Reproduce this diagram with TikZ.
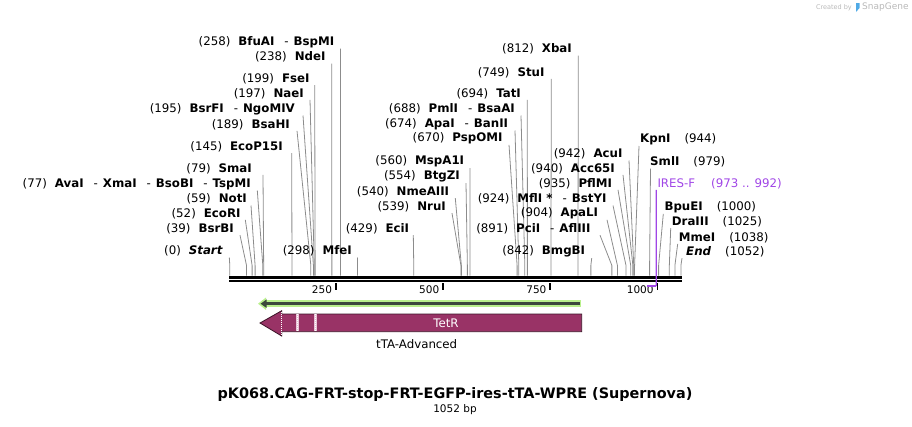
\documentclass[tikz,border=0pt]{standalone}
\usepackage{fontspec}
\setmainfont{DejaVu Sans}
\usetikzlibrary{arrows.meta}
\definecolor{cutgray}{RGB}{140,140,140}
\definecolor{tetr}{RGB}{153,51,102}
\definecolor{tetrline}{RGB}{60,20,40}
\definecolor{stripe}{RGB}{232,196,214}
\definecolor{halo}{RGB}{185,240,140}
\definecolor{orfline}{RGB}{60,72,60}
\definecolor{primer}{RGB}{160,70,230}
\definecolor{credit}{RGB}{185,185,185}
\definecolor{logo}{RGB}{80,170,230}
\newcommand\enz[1]{\textbf{#1}}
\newcommand\dsh{\hspace{10pt}-\hspace{5pt}}
\tikzset{
  lbl/.style={inner sep=0pt,font=\fontsize{11.8}{13}\selectfont},
  cut/.style={draw=cutgray,line width=0.8pt},
  tickmark/.style={line width=1.6pt},
}
\begin{document}
\begin{tikzpicture}[x=1pt,y=-1pt]
    \useasboundingbox (0,0) rectangle (912,426);
    %% backbone
    \draw[line width=2.6pt] (229.3,277.3) -- (681.7,277.3);
    \draw[line width=2pt] (229.3,281.2) -- (681.7,281.2);
    %% ruler
    \foreach \t in {250,500,750,1000} {
        \pgfmathsetmacro\tx{228.5+0.4288*\t}
        \draw[tickmark] (\tx,283) -- (\tx,289.5);
        \node[lbl,font=\fontsize{10.5}{12}\selectfont,anchor=east] (t\t) at (\tx-3.5,289.5) {\t};
    }
    %% sites, labels on the left
    \foreach \id/\num/\txt/\lx/\ly/\dx/\bp in {
        bfu/258/{\enz{BfuAI}\dsh\enz{BspMI}}/334.5/42/6/258,
        nde/238/{\enz{NdeI}}/325.7/57/6/238,
        fse/199/{\enz{FseI}}/309.7/78.5/5/199,
        nae/197/{\enz{NaeI}}/304/93.3/6/197,
        bsrf/195/{\enz{BsrFI}\dsh\enz{NgoMIV}}/295/109/8/195,
        bsah/189/{\enz{BsaHI}}/290/124.3/7/189,
        ecop/145/{\enz{EcoP15I}}/283/146.7/8.7/145,
        sma/79/{\enz{SmaI}}/252/168.3/11/79,
        ava/77/{\enz{AvaI}\dsh\enz{XmaI}\dsh\enz{BsoBI}\dsh\enz{TspMI}}/251/184/6.3/77,
        noti/59/{\enz{NotI}}/247/199/4/59,
        ecor/52/{\enz{EcoRI}}/240.7/213.3/4.6/52,
        bsrb/39/{\enz{BsrBI}}/234/228.7/6/39,
        start/0/{\enz{\textit{Start}}}/223/251/6.3/0,
        mfe/298/{\enz{MfeI}}/352/251/5.4/298,
        eci/429/{\enz{EciI}}/409.3/228.7/4/429,
        nru/539/{\enz{NruI}}/446/206.7/6/539,
        nme/540/{\enz{NmeAIII}}/449.3/191.7/6/540,
        btg/554/{\enz{BtgZI}}/460/176.7/6/554,
        msp/560/{\enz{MspA1I}}/464.3/161.7/5.7/560,
        psp/670/{\enz{PspOMI}}/502.7/138.3/6.3/670,
        apa/674/{\enz{ApaI}\dsh\enz{BanII}}/508.3/124/6.7/674,
        pml/688/{\enz{PmlI}\dsh\enz{BsaAI}}/515/109/6/688,
        tat/694/{\enz{TatI}}/521/93.3/6.3/694,
        stu/749/{\enz{StuI}}/544.7/72.3/6.6/749,
        xba/812/{\enz{XbaI}}/572/49/6.3/812,
        bmg/842/{\enz{BmgBI}}/585.3/251.7/6.4/842,
        pci/891/{\enz{PciI}\dsh\enz{AflIII}}/590.7/228.7/9.3/891,
        apal/904/{\enz{ApaLI}}/598.3/213.3/8.7/904,
        mfl/924/{\enz{MflI *}\dsh\enz{BstYI}}/606.7/199/6.3/924,
        pfl/935/{\enz{PflMI}}/612.3/183.3/5.7/935,
        acc/940/{\enz{Acc65I}}/615/168.3/8/940,
        acu/942/{\enz{AcuI}}/622.7/154/6.3/942} {
        \pgfmathsetmacro\sx{229.8+0.4288*\bp}
        \node[lbl,anchor=east] (\id) at (\lx,\ly) {(\num)\hspace{8pt}\txt};
        \coordinate (s-\id) at (\sx,275.5);
        \draw[cut] ([shift={(\dx,6.5)}]\id.east) -- ([yshift=10pt]s-\id) -- (s-\id);
    }
    %% sites, labels on the right
    \foreach \id/\txt/\num/\lx/\ly/\dx/\bp in {
        kpn/{\enz{KpnI}}/944/640/139.5/-1/944,
        sml/{\enz{SmlI}}/979/650/162/0.5/979,
        bpu/{\enz{BpuEI}}/1000/664.3/207.3/-1/1000,
        dra/{\enz{DraIII}}/1025/671.7/221.7/-1/1025,
        mme/{\enz{MmeI}}/1038/678.7/237.3/-1/1038,
        fin/{\enz{\textit{End}}}/1052/686/251.7/-4/1052} {
        \pgfmathsetmacro\sx{229.8+0.4288*\bp}
        \node[lbl,anchor=west] (\id) at (\lx,\ly) {\txt\hspace{14pt}(\num)};
        \coordinate (s-\id) at (\sx,275.5);
        \draw[cut] ([shift={(\dx,6.5)}]\id.west) -- ([yshift=10pt]s-\id) -- (s-\id);
    }
    %% primer
    \node[lbl,text=primer,anchor=west] (ires) at (657.3,183.3) {IRES-F\hspace{16pt}(973 .. 992)};
    \coordinate (ires-a) at (647.4,286);
    \coordinate (ires-b) at (656.2,286);
    \draw[primer,line width=1.2pt] ([shift={(-1,6.5)}]ires.west) -- (ires-b);
    \draw[primer,line width=2pt] (ires-a) -- (ires-b);
    %% ORF arrow
    \draw[halo,line width=7pt] (262,303.7) -- (580.7,303.7);
    \fill[halo] (258,303.7) -- (266,297.5) -- (266,309.9) -- cycle;
    \draw[orfline,line width=2.6pt,-{Triangle[length=6pt,width=8pt]}] (579.5,303.7) -- (260.5,303.7);
    %% TetR feature
    \filldraw[fill=tetr,draw=tetrline,line width=0.8pt]
        (581.7,314) -- (281.7,314) -- (281.7,310.7) -- (260,323)
        -- (281.7,336) -- (281.7,331.7) -- (581.7,331.7) -- cycle;
    \foreach \x in {297.7,315.7} {
        \fill[stripe] (\x-1.6,314.4) rectangle (\x+1.6,331.3);
        \draw[white,line width=1pt,dash pattern=on 1pt off 1pt] (\x,314.4) -- (\x,331.3);
    }
    \draw[white,line width=1pt,dash pattern=on 1pt off 1pt] (281.7,311.5) -- (281.7,335.2);
    \node[lbl,text=white] (tetr) at (446,323) {TetR};
    \node[lbl] (tta) at (416.7,344) {tTA-Advanced};
    %% title
    \node[inner sep=0pt,font=\fontsize{14.4}{17}\bfseries] (title) at (455,395) {pK068.CAG-FRT-stop-FRT-EGFP-ires-tTA-WPRE (Supernova)};
    \node[inner sep=0pt,font=\fontsize{10.5}{12}\selectfont] (len) at (455,410) {1052 bp};
    %% credit
    \node[inner sep=0pt,text=credit,font=\fontsize{6.5}{8}\selectfont,anchor=east] (cby) at (852,7.5) {Created by};
    \fill[logo] (856,3) -- (859.5,3) -- (859.5,8) -- (856,12) -- cycle;
    \node[inner sep=0pt,text=credit,font=\fontsize{9}{10}\selectfont,anchor=west] (sg) at (862,7.5) {SnapGene};
\end{tikzpicture}
\end{document}
